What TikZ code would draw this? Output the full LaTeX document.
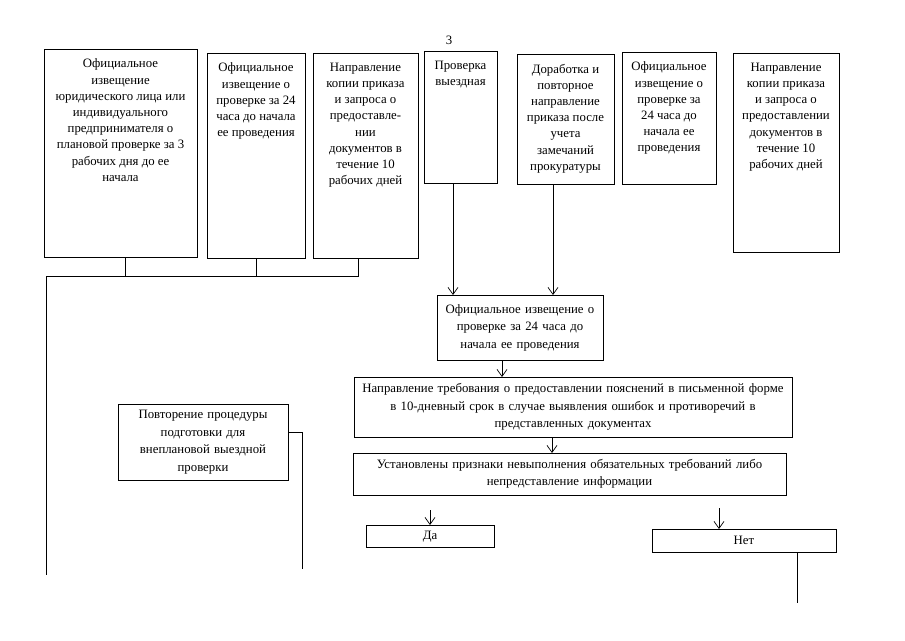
\documentclass[tikz,border=0pt]{standalone}
\usepackage{fontspec}
\setmainfont{Liberation Serif}
\usetikzlibrary{arrows.meta}
\newcommand\topbox[3]{\parbox[t][#2][t]{#1}{\centering\vspace*{10pt}#3\par}}
\begin{document}
\begin{tikzpicture}[x=1pt,y=-1pt,
  box/.style={draw, line width=0.8pt, inner sep=0pt, outer sep=0pt, anchor=north west, font=\fontsize{12.8}{16.2}\selectfont},
  cbox/.style={box, align=center, font=\fontsize{12.8}{17.5}\selectfont},
  conn/.style={line width=0.8pt},
  arr/.style={line width=0.7pt, -{Straight Barb[length=7pt,width=10pt]}}]
\path[use as bounding box] (0,0) rectangle (905,640);

\node[font=\fontsize{12.8}{14}\selectfont] (pg) at (449,40) {3};

\node[box] (b1) at (44,49) {\topbox{153pt}{208pt}{Официальное\\ извещение\\ юридического лица или\\ индивидуального\\ предпринимателя о\\ плановой проверке за 3\\ рабочих дня до ее\\ начала}};
\node[box] (b2) at (207,53) {\topbox{98pt}{205pt}{Официальное\\ извещение о\\ проверке за 24\\ часа до начала\\ ее проведения}};
\node[box] (b3) at (313,53) {\topbox{105pt}{205pt}{Направление\\ копии приказа\\ и запроса о\\ предоставле-\\ нии\\ документов в\\ течение 10\\ рабочих дней}};
\node[box] (b4) at (424,51) {\topbox{73pt}{132pt}{Проверка\\ выездная}};
\node[box] (b5) at (517,54) {\topbox{97pt}{130pt}{Доработка и\\ повторное\\ направление\\ приказа после\\ учета\\ замечаний\\ прокуратуры}};
\node[box] (b6) at (622,52) {\topbox{94pt}{132pt}{Официальное\\ извещение о\\ проверке за\\ 24 часа до\\ начала ее\\ проведения}};
\node[box] (b7) at (733,53) {\topbox{106pt}{199pt}{Направление\\ копии приказа\\ и запроса о\\ предоставлении\\ документов в\\ течение 10\\ рабочих дней}};

\node[cbox, minimum width=166pt, minimum height=65pt, text width=160pt] (b8) at (437,295) {Официальное извещение о\\ проверке за 24 часа до\\ начала ее проведения};
\node[cbox, minimum width=438pt, minimum height=60pt, text width=432pt] (b9) at (354,377) {Направление требования о предоставлении пояснений в письменной форме\\ в 10-дневный срок в случае выявления ошибок и противоречий в\\ представленных документах};
\node[cbox, minimum width=433pt, minimum height=42pt, text width=427pt] (b10) at (353,453) {Установлены признаки невыполнения обязательных требований либо\\ непредставление информации};
\node[cbox, minimum width=170pt, minimum height=76pt, text width=164pt] (b11) at (118,404) {Повторение процедуры\\ подготовки для\\ внеплановой выездной\\ проверки};
\node[cbox, minimum width=128pt, minimum height=22pt, text width=122pt, text depth=1pt] (da) at (366,525) {Да};
\node[cbox, minimum width=184pt, minimum height=23pt, text width=178pt, text depth=1pt] (net) at (652,529) {Нет};

% bus from the left boxes
\coordinate (busL) at (46,276);
\coordinate (leftEnd) at (46,575);
\draw[conn] ([xshift=-7.5pt]b3.south) |- (busL) -- (leftEnd);
\draw[conn] ([xshift=4.5pt]b1.south) -- ([xshift=4.5pt]b1.south |- busL);
\draw[conn] (b2.south) -- (b2.south |- busL);

% arrows to the central box
\draw[arr] ([xshift=-7.5pt]b4.south) -- ([xshift=-7.5pt]b4.south |- b8.north);
\draw[arr] ([xshift=-12.5pt]b5.south) -- ([xshift=-12.5pt]b5.south |- b8.north);
\draw[arr] ([xshift=-18pt]b8.south) -- ([xshift=-18pt]b8.south |- b9.north);
\draw[arr] ([xshift=-21pt]b9.south) -- ([xshift=-21pt]b9.south |- b10.north);
\draw[arr] ([yshift=15pt]da.north) -- (da.north);
\draw[arr] ([xshift=-25pt,yshift=21pt]net.north) -- ([xshift=-25pt]net.north);
\draw[conn] ([xshift=53pt]net.south) -- ++(0,51);

% repeat-procedure line
\draw[conn] ([yshift=10pt]b11.east) -- ++(14,0) -- ++(0,137);
\end{tikzpicture}
\end{document}
